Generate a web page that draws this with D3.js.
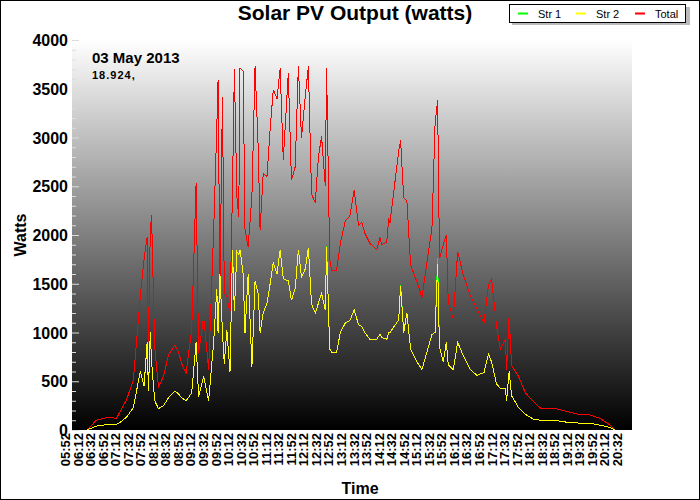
<!DOCTYPE html>
<html>
<head>
<meta charset="utf-8">
<script src="https://cdn.jsdelivr.net/npm/d3@7"></script>
<style>
  body { margin: 0; background: #fff; }
  text { font-family: "Liberation Sans", Arial, sans-serif; }
</style>
</head>
<body>
<svg id="chart" width="700" height="500"></svg>
<script>
// readings, times as HH:MM
var times = ['06:27','06:42','06:53','07:00','07:14','07:20','07:30','07:41','07:52','07:58',
  '08:03','08:05','08:08','08:10','08:15','08:21','08:29','08:37','08:47','08:53',
  '08:58','09:05','09:14','09:21','09:25','09:33','09:41','09:49','09:54','09:56',
  '09:59','10:03','10:06','10:10','10:15','10:19','10:22','10:26','10:29','10:31',
  '10:36','10:39','10:44','10:50','10:55','11:00','11:03','11:08','11:14','11:19',
  '11:24','11:30','11:35','11:40','11:48','11:53','11:59','12:04','12:09','12:15',
  '12:20','12:25','12:31','12:36','12:41','12:47','12:49','12:54','12:57','13:05',
  '13:11','13:19','13:26','13:33','13:40','13:45','13:50','13:58','14:09','14:14',
  '14:17','14:25','14:28','14:30','14:44','14:47','14:52','14:57','15:03','15:13',
  '15:21','15:29','15:37','15:42','15:46','15:49','15:55','16:00','16:03','16:11',
  '16:18','16:27','16:38','16:49','17:00','17:07','17:12','17:20','17:26','17:34',
  '17:36','17:40','17:44','17:55','18:06','18:19','18:30','18:51','19:12','19:33',
  '19:49','20:05','20:21','20:29'];

var total = [0,100,120,130,120,190,310,510,1370,1750,
  1980,900,2050,2200,850,440,550,770,870,800,
  680,580,1030,2530,790,1160,620,2050,3110,3590,
  1500,3420,1400,1370,1200,2460,3700,2400,2190,3710,
  3680,2050,1880,2400,3730,2900,2050,2630,2600,3080,
  3490,3400,3710,2770,3660,2560,2700,3730,3000,3420,
  3730,2420,2330,2800,3010,2500,3710,1750,1640,1640,
  1915,2150,2190,2460,2100,2130,2020,1915,1850,1970,
  1900,1930,2170,2120,2860,2970,2380,2350,1690,1520,
  1360,1720,2070,3140,3380,1760,1900,2000,1310,1140,
  1830,1590,1380,1240,1100,1480,1550,1070,830,930,
  620,1170,660,550,380,290,225,225,190,155,
  155,120,50,0];

var str2 = [0,40,50,60,60,80,130,230,600,450,
  900,400,1000,700,300,220,250,330,400,370,
  330,300,380,900,340,550,300,900,1450,1000,
  1600,1000,680,1030,590,1850,1220,1830,1800,1850,
  1600,1000,1600,650,1530,1400,1000,1200,1300,1500,
  1720,1600,1850,1550,1530,1330,1450,1850,1570,1650,
  1870,1290,1200,1300,1400,1230,1880,830,800,800,
  1000,1100,1120,1230,1080,1060,1000,930,930,980,
  950,930,1000,1000,1130,1480,1000,1200,830,700,
  620,800,980,1000,1700,850,700,900,670,620,
  900,760,620,560,590,780,700,470,430,430,
  300,600,350,230,160,110,100,100,80,70,
  70,50,25,0];

var str1 = [0,40,50,60,60,80,130,230,600,450,
  900,400,1000,700,300,220,250,330,400,370,
  330,300,380,900,340,550,300,900,1450,1000,
  1600,1000,680,1030,590,1850,1220,1830,1800,1850,
  1600,1000,1600,650,1530,1400,1000,1200,1300,1500,
  1720,1600,1850,1550,1530,1330,1450,1850,1570,1650,
  1870,1290,1200,1300,1400,1230,1890,830,800,800,
  1000,1100,1120,1230,1080,1060,1000,930,930,980,
  950,930,1000,1000,1130,1490,1000,1200,830,700,
  620,800,980,1000,1760,850,700,900,670,620,
  900,760,620,560,590,780,700,470,430,430,
  300,600,350,230,160,110,100,100,80,70,
  70,50,25,0];

var yTicks = [0, 500, 1000, 1500, 2000, 2500, 3000, 3500, 4000];

var parse = d3.timeParse('%H:%M');
var svg = d3.select('#chart');

var x = d3.scaleTime()
    .domain([parse('05:52'), parse('20:32')])
    .range([65, 617]);
var y = d3.scaleLinear().domain([0, 4000]).range([430, 40]);

var defs = svg.append('defs');
var grad = defs.append('linearGradient').attr('id', 'bg')
    .attr('x1', 0).attr('y1', 0).attr('x2', 0).attr('y2', 1);
grad.append('stop').attr('offset', '0%').attr('stop-color', '#ffffff');
grad.append('stop').attr('offset', '100%').attr('stop-color', '#000000');
defs.append('clipPath').attr('id', 'clip').append('rect')
    .attr('x', 72).attr('y', 38).attr('width', 560).attr('height', 392);

svg.append('rect').attr('x', 0.5).attr('y', 0.5).attr('width', 699).attr('height', 499)
    .attr('fill', '#fff').attr('stroke', '#000');
svg.append('rect').attr('x', 72).attr('y', 40).attr('width', 560).attr('height', 390)
    .attr('fill', 'url(#bg)');

// y axis ticks (minor every 100)
var minor = d3.range(0, 4001, 100);
svg.append('g').selectAll('line').data(minor).enter().append('line')
    .attr('x1', 72).attr('x2', function(d) { return d % 500 ? 76 : 79; })
    .attr('y1', function(d) { return y(d) + 0.5; }).attr('y2', function(d) { return y(d) + 0.5; })
    .attr('stroke', '#ddd').attr('stroke-width', 1);
svg.append('g').selectAll('text').data(yTicks).enter().append('text')
    .attr('x', 68).attr('y', function(d) { return y(d) + 6; })
    .attr('text-anchor', 'end').attr('font-size', 16).attr('font-weight', 'bold')
    .text(function(d) { return d; });

// x tick labels every 20 min from 05:52
var t0 = parse('05:52');
var xTicks = d3.range(0, 45).map(function(i) { return d3.timeMinute.offset(t0, i * 20); });
var fmt = d3.timeFormat('%H:%M');
svg.append('g').selectAll('text').data(xTicks).enter().append('text')
    .attr('transform', function(d) { return 'translate(' + (x(d) + 5) + ',433) rotate(-90)'; })
    .attr('text-anchor', 'end').attr('font-size', 13).attr('font-weight', 'bold')
    .text(function(d) { return fmt(d); });

function line(vals) {
  return d3.line()
      .x(function(d, i) { return x(parse(times[i])); })
      .y(function(d) { return y(d); })(vals);
}
var plot = svg.append('g').attr('clip-path', 'url(#clip)').attr('shape-rendering', 'crispEdges');
plot.append('path').attr('d', line(total)).attr('fill', 'none').attr('stroke', '#ff0000').attr('stroke-width', 1);
plot.append('path').attr('d', line(str1)).attr('fill', 'none').attr('stroke', '#00ff00').attr('stroke-width', 1);
plot.append('path').attr('d', line(str2)).attr('fill', 'none').attr('stroke', '#ffff00').attr('stroke-width', 1);

// titles
svg.append('text').attr('x', 355).attr('y', 20).attr('text-anchor', 'middle')
    .attr('font-size', 21).attr('font-weight', 'bold').text('Solar PV Output (watts)');
svg.append('text').attr('x', 92).attr('y', 63).attr('font-size', 15).attr('font-weight', 'bold').text('03 May 2013');
svg.append('text').attr('x', 92).attr('y', 79).attr('font-size', 11).attr('font-weight', 'bold')
    .attr('letter-spacing', 1).text('18.924,');
svg.append('text').attr('transform', 'translate(26,235) rotate(-90)').attr('text-anchor', 'middle')
    .attr('font-size', 16).attr('font-weight', 'bold').text('Watts');
svg.append('text').attr('x', 360).attr('y', 494).attr('text-anchor', 'middle')
    .attr('font-size', 16).attr('font-weight', 'bold').text('Time');

// legend
var legend = [['Str 1', '#00ff00', 518], ['Str 2', '#ffff00', 576], ['Total', '#ff0000', 635]];
svg.append('rect').attr('x', 512).attr('y', 7).attr('width', 178).attr('height', 18).attr('fill', '#bbb');
svg.append('rect').attr('x', 509.5).attr('y', 4.5).attr('width', 176).attr('height', 18)
    .attr('fill', '#fff').attr('stroke', '#000');
var lg = svg.append('g').selectAll('g').data(legend).enter().append('g');
lg.append('line').attr('x1', function(d) { return d[2]; }).attr('x2', function(d) { return d[2] + 10; })
    .attr('y1', 13.5).attr('y2', 13.5).attr('stroke', function(d) { return d[1]; }).attr('stroke-width', 2);
lg.append('text').attr('x', function(d) { return d[2] + 20; }).attr('y', 18)
    .attr('font-size', 11).text(function(d) { return d[0]; });
</script>
</body>
</html>
